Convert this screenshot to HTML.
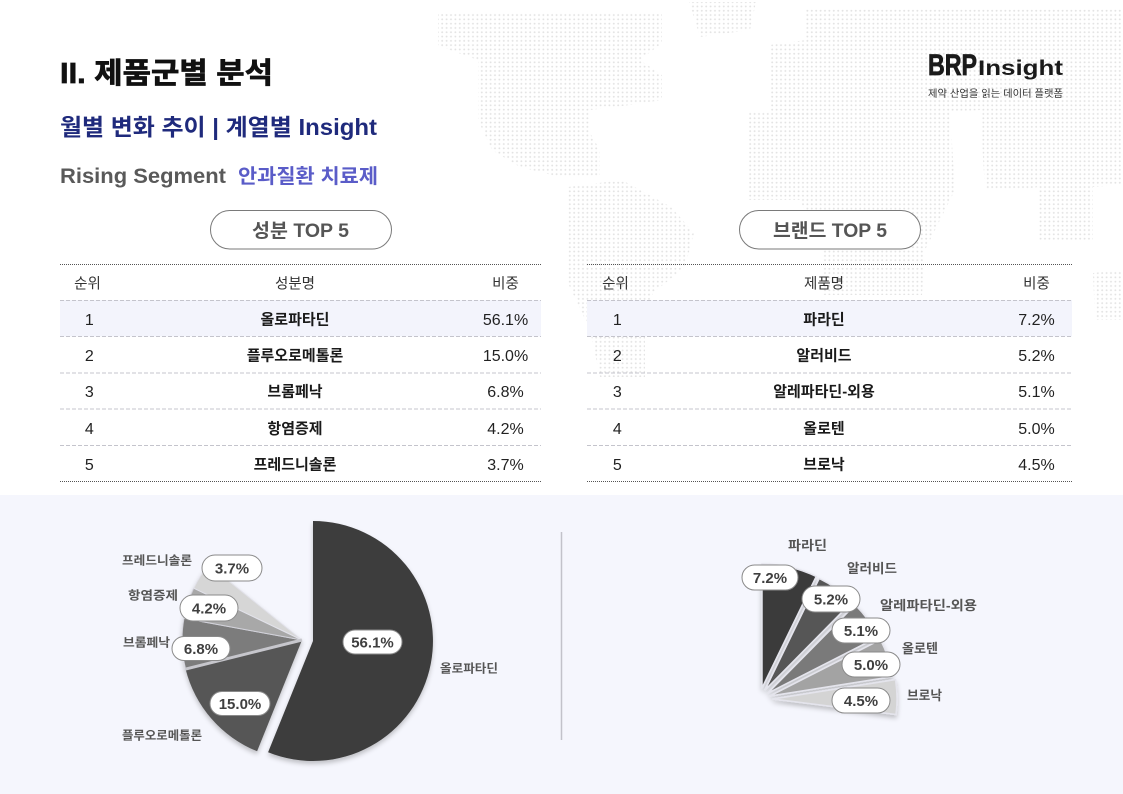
<!DOCTYPE html>
<html><head><meta charset="utf-8">
<style>
html,body{margin:0;padding:0;background:#fff;}
body{width:1123px;height:794px;overflow:hidden;position:relative;}
svg{position:absolute;left:0;top:0;}
text{font-family:"Liberation Sans","Noto Sans CJK KR",sans-serif;}
.b{font-weight:bold;}
</style></head>
<body>
<svg width="1123" height="794" viewBox="0 0 1123 794" xmlns="http://www.w3.org/2000/svg">
<defs>
<pattern id="dots" width="4.4" height="4.3" patternUnits="userSpaceOnUse">
<circle cx="2.2" cy="2.15" r="0.95" fill="#e3e3e3"/>
</pattern>
<filter id="sh" x="-20%" y="-20%" width="140%" height="140%">
<feDropShadow dx="0" dy="3" stdDeviation="2.5" flood-color="#000" flood-opacity="0.22"/>
</filter>
</defs>

<!-- world map dots -->
<g fill="url(#dots)">
<polygon points="438,14 560,12 662,14 662,43 640,60 662,75 662,100 630,105 590,110 590,133 600,150 600,177 560,177 520,167 492,150 478,120 478,60 450,50 438,45"/>
<polygon points="689,2 756,2 750,30 700,37"/>
<polygon points="568,187 622,180 671,207 694,233 685,267 653,293 645,330 645,377 600,377 590,330 568,283 568,233"/>
<polygon points="806,8 1123,8 1123,110 1100,110 1016,110 980,110 950,112 900,110 840,112 790,118 770,110 770,45 806,40"/>
<polygon points="747,112 950,112 955,190 925,250 922,295 823,295 823,250 800,200 747,200"/>
<polygon points="980,110 1123,110 1123,185 1093,187 1093,240 1039,240 1039,187 1016,190 985,190"/>
<polygon points="1093,273 1123,270 1123,320 1095,320"/>
</g>

<!-- Header -->
<text x="60" y="83" font-size="29" class="b" fill="#111" stroke="#111" stroke-width="0.7" textLength="213" lengthAdjust="spacingAndGlyphs">II. 제품군별 분석</text>
<text x="60" y="135" font-size="23" class="b" fill="#1f2a7c" textLength="317" lengthAdjust="spacingAndGlyphs">월별 변화 추이 | 계열별 Insight</text>
<text x="60" y="183" font-size="21" class="b" fill="#595959" textLength="166" lengthAdjust="spacingAndGlyphs">Rising Segment</text>
<text x="238" y="183" font-size="20" class="b" fill="#5a5cc8" textLength="140" lengthAdjust="spacingAndGlyphs">안과질환 치료제</text>

<!-- Logo -->
<text x="928" y="75" font-size="30" class="b" fill="#1a1a1a" stroke="#1a1a1a" stroke-width="0.8" textLength="49" lengthAdjust="spacingAndGlyphs">BRP</text>
<text x="978" y="75" font-size="21" class="b" fill="#1a1a1a" textLength="85" lengthAdjust="spacingAndGlyphs">Insight</text>
<text x="928" y="97" font-size="10" fill="#333" textLength="135" lengthAdjust="spacingAndGlyphs">제약 산업을 읽는 데이터 플랫폼</text>

<!-- Pills -->
<rect x="210.5" y="210.5" width="181" height="38.5" rx="19.25" fill="#fff" stroke="#7a7a7a" stroke-width="1"/>
<text x="300.5" y="237" font-size="19" class="b" fill="#555" text-anchor="middle" textLength="97" lengthAdjust="spacingAndGlyphs">성분 TOP 5</text>
<rect x="739.5" y="210.5" width="181" height="38.5" rx="19.25" fill="#fff" stroke="#7a7a7a" stroke-width="1"/>
<text x="830" y="237" font-size="19" class="b" fill="#555" text-anchor="middle" textLength="114" lengthAdjust="spacingAndGlyphs">브랜드 TOP 5</text>

<!-- Tables backgrounds -->
<rect x="60" y="300" width="481" height="36.5" fill="#f3f4fc"/>
<rect x="587" y="300" width="485" height="36.5" fill="#f3f4fc"/>

<!-- Table lines -->
<g stroke="#555" stroke-width="1" stroke-dasharray="1 1">
<line x1="60" y1="264.5" x2="541" y2="264.5"/>
<line x1="60" y1="481.5" x2="541" y2="481.5"/>
<line x1="587" y1="264.5" x2="1072" y2="264.5"/>
<line x1="587" y1="481.5" x2="1072" y2="481.5"/>
</g>
<g stroke="#c4c4cc" stroke-width="1" stroke-dasharray="4 2">
<line x1="60" y1="300.5" x2="541" y2="300.5"/>
<line x1="60" y1="336.5" x2="541" y2="336.5"/>
<line x1="60" y1="373" x2="541" y2="373"/>
<line x1="60" y1="409" x2="541" y2="409"/>
<line x1="60" y1="445.5" x2="541" y2="445.5"/>
<line x1="587" y1="300.5" x2="1072" y2="300.5"/>
<line x1="587" y1="336.5" x2="1072" y2="336.5"/>
<line x1="587" y1="373" x2="1072" y2="373"/>
<line x1="587" y1="409" x2="1072" y2="409"/>
<line x1="587" y1="445.5" x2="1072" y2="445.5"/>
</g>

<!-- Table text -->
<g font-size="14.5" fill="#333" text-anchor="middle">
<text x="87.5" y="288.5">순위</text>
<text x="295" y="288.5">성분명</text>
<text x="505.5" y="288.5">비중</text>
<text x="615.5" y="288.5">순위</text>
<text x="824" y="288.5">제품명</text>
<text x="1036.5" y="288.5">비중</text>
</g>
<g font-size="16" fill="#222" text-anchor="middle">
<text x="89.3" y="324.8">1</text>
<text x="89.3" y="360.8">2</text>
<text x="89.3" y="396.8">3</text>
<text x="89.3" y="433.8">4</text>
<text x="89.3" y="469.8">5</text>
<text x="505.5" y="324.8">56.1%</text>
<text x="505.5" y="360.8">15.0%</text>
<text x="505.5" y="396.8">6.8%</text>
<text x="505.5" y="433.8">4.2%</text>
<text x="505.5" y="469.8">3.7%</text>
<text x="617.3" y="324.8">1</text>
<text x="617.3" y="360.8">2</text>
<text x="617.3" y="396.8">3</text>
<text x="617.3" y="433.8">4</text>
<text x="617.3" y="469.8">5</text>
<text x="1036.5" y="324.8">7.2%</text>
<text x="1036.5" y="360.8">5.2%</text>
<text x="1036.5" y="396.8">5.1%</text>
<text x="1036.5" y="433.8">5.0%</text>
<text x="1036.5" y="469.8">4.5%</text>
</g>
<g font-size="15" class="b" fill="#1a1a1a" text-anchor="middle">
<text x="295" y="324.6">올로파타딘</text>
<text x="295" y="360.6">플루오로메톨론</text>
<text x="295" y="396.6">브롬페낙</text>
<text x="295" y="433.6">항염증제</text>
<text x="295" y="469.6">프레드니솔론</text>
<text x="824" y="324.6">파라딘</text>
<text x="824" y="360.6">알러비드</text>
<text x="824" y="396.6">알레파타딘-외용</text>
<text x="824" y="433.6">올로텐</text>
<text x="824" y="469.6">브로낙</text>
</g>

<!-- Bottom band -->
<rect x="0" y="495" width="1123" height="299" fill="#f5f6fd"/>
<line x1="561.5" y1="532" x2="561.5" y2="740" stroke="#c2c2ca" stroke-width="1.5"/>

<!-- Left pie -->
<g filter="url(#sh)">
<path d="M302,640 L257.1,751.3 A120,120 0 0,1 185.6,669.1 Z" fill="#575757"/>
<path d="M302,640 L185.6,669.1 A120,120 0 0,1 184.0,618.3 Z" fill="#7c7c7c" stroke="#d2d2da" stroke-width="1"/>
<path d="M302,640 L184.0,618.3 A120,120 0 0,1 193.7,588.2 Z" fill="#a8a8a8" stroke="#d2d2da" stroke-width="1"/>
<path d="M302,640 L193.7,588.2 A120,120 0 0,1 208.6,564.7 Z" fill="#d6d6d6" stroke="#e2e2ea" stroke-width="1"/>
<line x1="302" y1="640" x2="185.6" y2="669.1" stroke="#c6c6cc" stroke-width="3"/>
<path d="M313,641 L313,521 A120,120 0 1,1 268.1,752.3 Z" fill="#3c3c3c"/>
</g>

<!-- Right pie -->
<g filter="url(#sh)" stroke="#e4e4ec" stroke-width="1.5">
<path d="M762,688 L762,564 A124,124 0 0,1 816.2,576.5 Z" fill="#3a3a3a"/>
<path d="M765,690 L819.2,578.5 A124,124 0 0,1 852.1,601.8 Z" fill="#565656"/>
<path d="M768,693 L855.1,604.8 A124,124 0 0,1 878.5,636.7 Z" fill="#7a7a7a"/>
<path d="M770,696 L880.5,639.7 A124,124 0 0,1 892.5,676.6 Z" fill="#a3a3a3"/>
<path d="M773,699 L895.5,679.6 A124,124 0 0,1 896.0,714.5 Z" fill="#d4d4d4"/>
</g>

<!-- Pie pills -->
<g fill="#fff" stroke="#8a8a8a" stroke-width="1">
<rect x="343" y="630" width="59" height="24" rx="12"/>
<rect x="210" y="691.5" width="60" height="24" rx="12"/>
<rect x="172" y="636.5" width="58" height="24" rx="12"/>
<rect x="180" y="595" width="58" height="26" rx="13"/>
<rect x="202" y="555" width="60" height="26" rx="13"/>
<rect x="742" y="565" width="56" height="25" rx="12.5"/>
<rect x="802" y="586" width="58" height="26" rx="13"/>
<rect x="832" y="618" width="58" height="25" rx="12.5"/>
<rect x="842" y="652" width="58" height="25" rx="12.5"/>
<rect x="832" y="688" width="58" height="25" rx="12.5"/>
</g>
<g font-size="15" class="b" fill="#3f3f3f" text-anchor="middle">
<text x="372.5" y="647.4">56.1%</text>
<text x="240" y="708.9">15.0%</text>
<text x="201" y="653.9">6.8%</text>
<text x="209" y="613.4">4.2%</text>
<text x="232" y="573.4">3.7%</text>
<text x="770" y="582.9">7.2%</text>
<text x="831" y="604.4">5.2%</text>
<text x="861" y="635.9">5.1%</text>
<text x="871" y="669.9">5.0%</text>
<text x="861" y="705.9">4.5%</text>
</g>

<!-- Pie labels -->
<g font-size="12" class="b" fill="#555">
<text x="122" y="564.5" textLength="70" lengthAdjust="spacingAndGlyphs">프레드니솔론</text>
<text x="128" y="599.5" textLength="50" lengthAdjust="spacingAndGlyphs">항염증제</text>
<text x="123" y="646.5" textLength="47" lengthAdjust="spacingAndGlyphs">브롬페낙</text>
<text x="122" y="739.5" textLength="80" lengthAdjust="spacingAndGlyphs">플루오로메톨론</text>
<text x="440" y="672.5" textLength="58" lengthAdjust="spacingAndGlyphs">올로파타딘</text>
</g>
<g font-size="13" class="b" fill="#555">
<text x="788" y="550" textLength="39" lengthAdjust="spacingAndGlyphs">파라딘</text>
<text x="847" y="573" textLength="50" lengthAdjust="spacingAndGlyphs">알러비드</text>
<text x="880" y="610" textLength="97" lengthAdjust="spacingAndGlyphs">알레파타딘-외용</text>
<text x="902" y="653" textLength="36" lengthAdjust="spacingAndGlyphs">올로텐</text>
<text x="907" y="700" textLength="35" lengthAdjust="spacingAndGlyphs">브로낙</text>
</g>
</svg>
</body></html>
